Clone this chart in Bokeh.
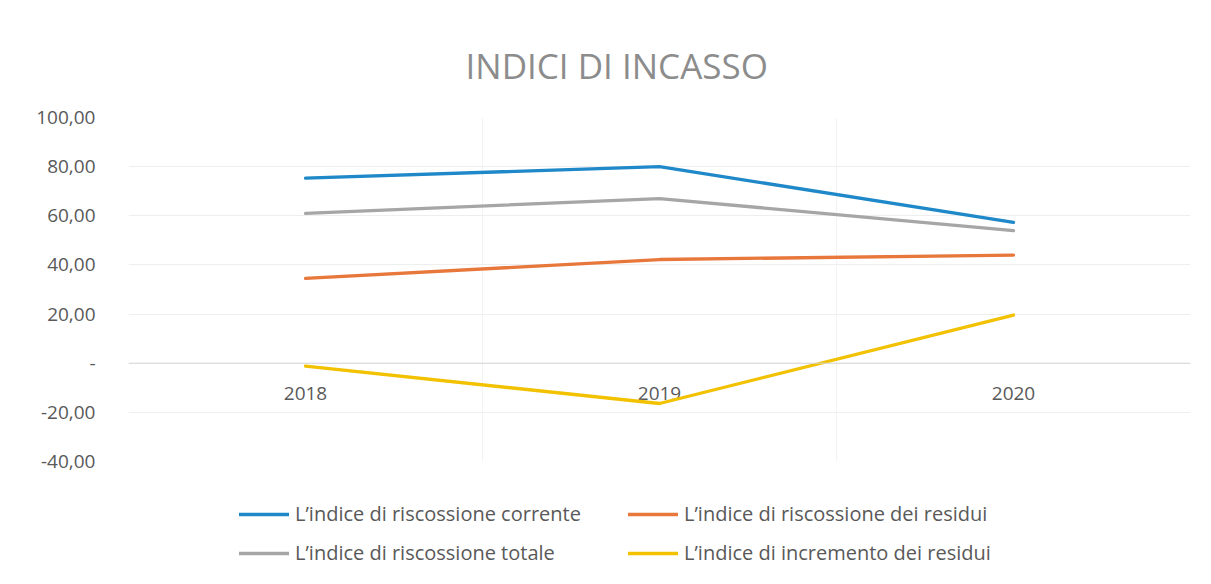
from bokeh.plotting import figure
from bokeh.layouts import column
from bokeh.models import (Range1d, FixedTicker, CustomJSTickFormatter, Legend,
                          LegendItem, Title, Span)
from bokeh.core.properties import value
from bokeh.embed import file_html
from bokeh.resources import INLINE

years = ["2018", "2019", "2020"]
series_names = [
    "L\u2019indice di riscossione corrente",
    "L\u2019indice di riscossione dei residui",
    "L\u2019indice di riscossione totale",
    "L\u2019indice di incremento dei residui",
]
corrente = [75.3, 80.0, 57.3]
residui = [34.5, 42.2, 44.0]
totale = [61.0, 67.0, 54.0]
incremento = [-1.2, -16.4, 19.6]
colors = ["#1f88c8", "#e8773c", "#a6a6a6", "#f2c100"]
y_ticks = [-40, -20, 0, 20, 40, 60, 80, 100]

FONT = "Open Sans"
TXT = "#595959"

xs = [i + 0.5 for i in range(len(years))]

p = figure(width=1195, height=475, output_backend="svg", toolbar_location=None,
           x_range=Range1d(0, len(years)), y_range=Range1d(-40, 100),
           min_border_left=128, min_border_right=5, min_border_top=117,
           min_border_bottom=14, outline_line_color=None,
           background_fill_color="white", border_fill_color="white")

p.title = Title(text="INDICI DI INCASSO", align="left", text_font=FONT,
                text_font_size="35px", text_font_style="normal",
                text_color="#8c8c8c", offset=337, standoff=57)

# y axis
p.yaxis.ticker = FixedTicker(ticks=y_ticks)
p.yaxis.formatter = CustomJSTickFormatter(code="""
if (Math.abs(tick) < 1e-9) return '-';
return tick.toFixed(2).replace('.', ',');
""")
p.yaxis.axis_line_color = None
p.yaxis.major_tick_line_color = None
p.yaxis.minor_tick_line_color = None
p.yaxis.major_label_text_font = FONT
p.yaxis.major_label_text_font_size = "19px"
p.yaxis.major_label_text_color = TXT
p.yaxis.major_label_standoff = 27

# x axis hidden; category labels drawn along the zero line
p.xaxis.visible = False

p.ygrid.ticker = FixedTicker(ticks=y_ticks)
p.ygrid.grid_line_color = "#eeeeee"
p.ygrid.grid_line_width = 1
p.xgrid.ticker = FixedTicker(ticks=list(range(len(years) + 1)))
p.xgrid.grid_line_color = "#f3f3f3"
p.xgrid.grid_line_width = 1

p.add_layout(Span(location=0, dimension="width", line_color="#d6d6d6",
                  line_width=1))

p.text(xs, [0] * len(years), text=years, text_font=value(FONT),
       text_font_size="19px", text_color=TXT, text_align="center",
       text_baseline="middle", y_offset=30)

for vals, c in zip([corrente, residui, totale, incremento], colors):
    p.line(xs, vals, line_color=c, line_width=3.3, line_cap="round",
           line_join="round")

# legend strip below the chart (its lines lie outside its visible range)
lf = figure(width=1195, height=100, output_backend="svg", toolbar_location=None,
            x_range=Range1d(0, 1), y_range=Range1d(0, 1),
            min_border=0, outline_line_color=None,
            background_fill_color="white", border_fill_color="white")
lf.axis.visible = False
lf.grid.visible = False
legend_renderers = [lf.line(x=[5, 6], y=[5, 5], line_color=c, line_width=3.5,
                            line_cap="round") for c in colors]
order = [0, 2, 1, 3]  # column-major fill -> rows: corrente/residui, totale/incremento
items = [LegendItem(label=series_names[i], renderers=[legend_renderers[i]])
         for i in order]
legend = Legend(items=items, ncols=2, location=(111, 9),
                label_text_font=FONT, label_text_font_size="20px",
                label_text_color=TXT, glyph_width=50, glyph_height=20,
                label_standoff=6, spacing=12, padding=5, margin=0,
                border_line_color=None, background_fill_alpha=0,
                label_height=20, label_width=321)
lf.add_layout(legend, "center")

layout = column(p, lf, spacing=0)
open("out.html", "w").write(file_html(layout, INLINE))
